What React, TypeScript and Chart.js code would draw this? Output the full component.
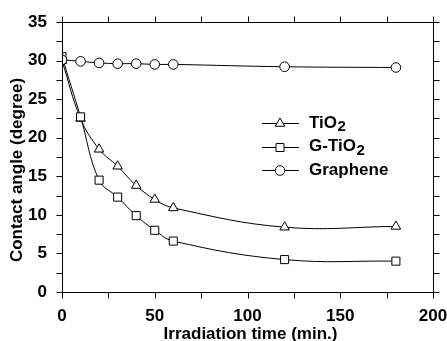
import React, { useEffect, useRef } from "react";
import { Chart, registerables } from "chart.js";

Chart.register(...registerables);

const times = [0, 10, 20, 30, 40, 50, 60, 120, 180];
const tio2 = [30.0, 22.5, 18.5, 16.3, 13.8, 12.0, 10.9, 8.4, 8.5];
const gTio2 = [30.5, 22.7, 14.5, 12.3, 9.9, 8.0, 6.6, 4.2, 4.0];
const graphene = [30.1, 29.9, 29.7, 29.6, 29.6, 29.5, 29.5, 29.2, 29.1];

const xTicks = [0, 50, 100, 150, 200];
const yTicks = [0, 5, 10, 15, 20, 25, 30, 35];
const xMinorStep = 25;
const yMinorStep = 2.5;
const xTitle = "Irradiation time (min.)";
const yTitle = "Contact angle (degree)";

const legendItems = [
  { base: "TiO", sub: "2", style: "triangle" },
  { base: "G-TiO", sub: "2", style: "rect" },
  { base: "Graphene", sub: "", style: "circle" },
];

const FONT = "'Liberation Sans', Arial, Helvetica, sans-serif";

function drawMarker(ctx: CanvasRenderingContext2D, style: string, x: number, y: number) {
  ctx.save();
  ctx.beginPath();
  if (style === "circle") {
    ctx.arc(x, y, 4.8, 0, Math.PI * 2);
  } else if (style === "rect") {
    const s = 4;
    ctx.rect(x - s, y - s, 2 * s, 2 * s);
  } else {
    const r = 5.5;
    ctx.moveTo(x, y - r);
    ctx.lineTo(x + r * Math.cos(Math.PI / 6), y + r / 2);
    ctx.lineTo(x - r * Math.cos(Math.PI / 6), y + r / 2);
    ctx.closePath();
  }
  ctx.fillStyle = "#fff";
  ctx.fill();
  ctx.lineWidth = 1;
  ctx.strokeStyle = "#000";
  ctx.stroke();
  ctx.restore();
}

const framePlugin = {
  id: "frameTicks",
  afterDraw(chart: any) {
    const { ctx, chartArea } = chart;
    const { left, right, top, bottom } = chartArea;
    const xs = chart.scales.x;
    const ys = chart.scales.y;
    ctx.save();
    ctx.strokeStyle = "#000";
    ctx.lineWidth = 1;
    const L = Math.round(left) + 0.5;
    const R = Math.round(right) + 0.5;
    const T = Math.round(top) + 0.5;
    const B = Math.round(bottom) + 0.5;
    ctx.beginPath();
    ctx.moveTo(L, T);
    ctx.lineTo(R, T);
    ctx.lineTo(R, B);
    ctx.lineTo(L, B);
    ctx.closePath();
    ctx.stroke();
    const tl = 6;
    ctx.beginPath();
    for (let v = xs.min; v <= xs.max + 1e-6; v += xMinorStep) {
      const px = Math.round(xs.getPixelForValue(v)) + 0.5;
      ctx.moveTo(px, B);
      ctx.lineTo(px, B + tl);
      ctx.moveTo(px, T);
      ctx.lineTo(px, T - tl);
    }
    for (let v = ys.min; v <= ys.max + 1e-6; v += yMinorStep) {
      const py = Math.round(ys.getPixelForValue(v)) + 0.5;
      ctx.moveTo(L, py);
      ctx.lineTo(L - tl, py);
      ctx.moveTo(R, py);
      ctx.lineTo(R + tl, py);
    }
    ctx.stroke();

    // axis titles
    ctx.fillStyle = "#000";
    ctx.font = `bold 17px ${FONT}`;
    ctx.textAlign = "center";
    ctx.textBaseline = "middle";
    ctx.fillText(xTitle, (left + right) / 2 + 3, bottom + 42);
    ctx.save();
    ctx.translate(17, (top + bottom) / 2 + 13);
    ctx.rotate(-Math.PI / 2);
    ctx.fillText(yTitle, 0, 0);
    ctx.restore();

    // legend
    const lx0 = left + 200;
    const lx1 = left + 237;
    const mx = left + 218;
    const tx = left + 247;
    const rowY = [top + 101, top + 124.5, top + 148];
    legendItems.forEach((it, i) => {
      const y = rowY[i];
      ctx.beginPath();
      ctx.moveTo(lx0, Math.round(y) + 0.5);
      ctx.lineTo(lx1, Math.round(y) + 0.5);
      ctx.strokeStyle = "#000";
      ctx.lineWidth = 1;
      ctx.stroke();
      drawMarker(ctx, it.style, mx, Math.round(y) + 0.5);
      ctx.fillStyle = "#000";
      ctx.textBaseline = "middle";
      ctx.textAlign = "left";
      ctx.font = `bold 17px ${FONT}`;
      ctx.fillText(it.base, tx, y);
      if (it.sub) {
        const w = ctx.measureText(it.base).width;
        ctx.font = `bold 15px ${FONT}`;
        ctx.fillText(it.sub, tx + w + 0.5, y + 4);
      }
    });
    ctx.restore();
  },
};

export default function App() {
  const ref = useRef<HTMLCanvasElement | null>(null);
  useEffect(() => {
    if (!ref.current) return;
    const mk = (label: string, data: number[], style: string, radius: number, order: number) => ({
      label,
      data: times.map((t, i) => ({ x: t, y: data[i] })),
      borderColor: "#000",
      borderWidth: 1,
      backgroundColor: "#fff",
      pointStyle: style,
      pointRadius: radius,
      pointBorderWidth: 1,
      pointBorderColor: "#000",
      pointBackgroundColor: "#fff",
      tension: 0.4,
      fill: false,
      order,
    });
    const chart = new Chart(ref.current, {
      type: "line",
      data: {
        datasets: [
          mk("TiO2", tio2, "triangle", 5.5, 3),
          mk("G-TiO2", gTio2, "rect", 5.7, 2),
          mk("Graphene", graphene, "circle", 4.8, 1),
        ],
      },
      options: {
        animation: false,
        responsive: false,
        devicePixelRatio: 1,
        layout: { padding: { left: 0, top: 22, right: 14, bottom: 0 } },
        plugins: { legend: { display: false }, tooltip: { enabled: false } },
        scales: {
          x: {
            type: "linear",
            min: 0,
            max: 200,
            afterFit: (s: any) => { s.height = 49; s.paddingLeft = 0; s.paddingRight = 0; },
            afterBuildTicks: (s: any) => { s.ticks = xTicks.map((v) => ({ value: v })); },
            grid: { display: false, drawTicks: false },
            border: { display: false },
            ticks: { color: "#000", padding: 14, maxRotation: 0, font: { family: FONT, size: 17, weight: "bold" } },
            title: { display: false },
          },
          y: {
            type: "linear",
            min: 0,
            max: 35,
            afterFit: (s: any) => { s.width = 62; s.paddingTop = 0; s.paddingBottom = 0; },
            afterBuildTicks: (s: any) => { s.ticks = yTicks.map((v) => ({ value: v })); },
            grid: { display: false, drawTicks: false },
            border: { display: false },
            ticks: { color: "#000", padding: 15, font: { family: FONT, size: 17, weight: "bold" } },
            title: { display: false },
          },
        },
      },
      plugins: [framePlugin],
    } as any);
    return () => chart.destroy();
  }, []);
  return (
    <div style={{ position: "fixed", left: 0, top: 0, width: 447, height: 341, background: "#fff" }}>
      <canvas ref={ref} width={447} height={341} style={{ display: "block" }} />
    </div>
  );
}
